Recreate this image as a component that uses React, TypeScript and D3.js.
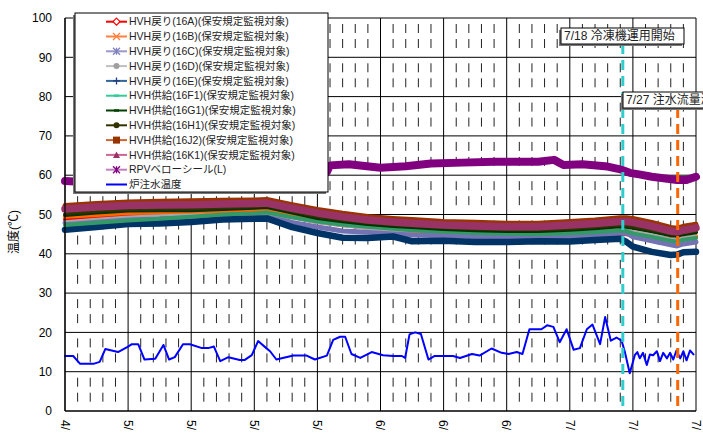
import React from "react";
import * as d3 from "d3";

const W = 703;
const H = 437;
const PLOT = { left: 65, right: 696, top: 18, bottom: 411 };

const X_TICK_DAYS = [0, 10, 20, 30, 40, 50, 60, 70, 80, 90, 100];
// only the month part of each date label is visible in the reference (the rest falls below the picture)
const X_TICK_LABELS = ["4/", "5/", "5/", "5/", "5/", "6/", "6/", "6/", "7/", "7/", "7/"];
const Y_TICKS = [0, 10, 20, 30, 40, 50, 60, 70, 80, 90, 100];

// days since 4/21
const HVH_DAYS = [0, 5, 10, 15, 20, 25, 30, 32, 36, 40, 44, 48, 52, 55, 60, 65, 70, 75, 80, 84, 88, 89, 90, 93, 96, 97, 98, 100];
const HVH_16A = [48.7, 49.3, 49.9, 50.2, 50.4, 50.5, 50.6, 50.6, 49.4, 48.1, 47.3, 46.6, 46.0, 45.6, 44.9, 44.6, 44.4, 44.3, 44.4, 44.8, 45.1, 45.0, 44.8, 44.2, 43.6, 43.4, 43.8, 44.3];
const HVH_16B = [49.4, 49.9, 50.4, 50.5, 50.6, 50.8, 50.9, 51.0, 49.8, 48.6, 47.7, 47.1, 46.4, 45.9, 45.3, 44.9, 44.6, 44.5, 44.6, 44.9, 45.3, 45.2, 44.9, 44.3, 43.8, 43.6, 44.0, 44.5];
const HVH_16C = [47.9, 48.3, 48.9, 49.0, 49.4, 49.6, 49.8, 49.9, 48.0, 46.8, 45.8, 45.5, 45.2, 44.8, 44.6, 44.4, 44.3, 44.3, 44.4, 44.8, 45.2, 45.3, 44.3, 43.3, 42.3, 42.0, 42.5, 43.0];
const HVH_16D = [48.3, 48.9, 49.5, 49.8, 50.0, 50.1, 50.2, 50.2, 49.0, 47.8, 47.0, 46.3, 45.9, 45.7, 45.9, 45.6, 45.4, 45.4, 45.6, 45.9, 46.3, 46.2, 45.8, 44.9, 43.9, 43.8, 44.2, 44.7];
const HVH_16E = [46.1, 46.8, 47.6, 47.7, 48.1, 48.7, 48.9, 49.0, 46.8, 45.3, 44.1, 44.0, 44.4, 43.2, 43.3, 43.0, 43.0, 43.2, 43.1, 43.5, 43.8, 43.0, 41.8, 40.5, 39.7, 39.8, 40.4, 40.5];
const HVH_16F1 = [47.3, 47.9, 48.5, 48.9, 49.4, 50.0, 50.3, 50.5, 49.3, 48.2, 47.4, 46.9, 46.4, 46.0, 45.6, 45.3, 45.1, 45.0, 45.2, 45.5, 45.9, 45.8, 45.2, 44.3, 43.3, 43.1, 43.6, 44.0];
const HVH_16G1 = [49.9, 50.5, 51.0, 51.1, 51.1, 51.4, 51.7, 51.9, 50.5, 49.1, 48.3, 47.6, 47.1, 46.8, 46.3, 46.0, 45.8, 45.8, 46.1, 46.5, 47.0, 46.9, 46.6, 45.7, 44.7, 44.6, 45.0, 45.5];
const HVH_16H1 = [50.2, 50.8, 51.3, 51.4, 51.4, 51.7, 52.0, 52.2, 50.8, 49.4, 48.6, 47.9, 47.4, 47.1, 46.6, 46.3, 46.1, 46.1, 46.4, 46.8, 47.3, 47.2, 46.9, 46.0, 45.0, 44.9, 45.3, 45.8];
const HVH_16J2 = [52.3, 52.8, 53.2, 53.4, 53.5, 53.6, 53.7, 53.8, 52.5, 51.3, 50.3, 49.5, 49.0, 48.7, 48.2, 48.0, 47.8, 47.8, 48.2, 48.6, 49.2, 49.2, 49.0, 48.0, 46.7, 46.5, 47.0, 47.5];
const HVH_16K1 = [51.4, 51.9, 52.3, 52.4, 52.5, 52.7, 52.8, 52.9, 51.6, 50.4, 49.4, 48.6, 48.1, 47.8, 47.3, 47.1, 46.9, 46.9, 47.3, 47.7, 48.2, 48.2, 48.0, 47.0, 45.8, 45.6, 46.0, 46.6];

const RPV_DAYS = [0, 1.6, 5, 10, 15, 20, 25, 30, 35, 40, 41.5, 42, 45, 50, 54, 58, 63, 68, 75, 77.5, 79, 82, 86, 88, 89.5, 91, 93, 97, 98.5, 100];
const RPV_VALUES = [58.5, 58.4, 59, 59.5, 60, 60.5, 60.5, 61, 61, 60.8, 60.8, 62.5, 62.8, 61.9, 62.3, 63.0, 63.2, 63.4, 63.4, 63.9, 62.6, 62.8, 62.2, 61.5, 60.6, 60.2, 59.6, 58.8, 58.8, 59.6];

const WATER_DAYS = [0, 1.3, 2.4, 4.5, 5.5, 6.4, 8.4, 10, 10.6, 11.6, 12.6, 14.3, 15.6, 16.5, 17.4, 18.7, 19.8, 21.7, 22.7, 23.6, 24.6, 25.9, 27.7, 28.5, 29.6, 30.6, 31.9, 32.5, 33.5, 36.2, 38.3, 39.6, 41.5, 42.5, 43.6, 44.4, 45.4, 46.8, 48.6, 50.4, 52, 53.4, 53.9, 54.6, 55.5, 56.4, 57.6, 58.6, 61.5, 62.6, 64.5, 65.7, 67.6, 69.2, 70.3, 71.6, 72.5, 73.6, 75.5, 76.4, 77.4, 78.4, 79.5, 80.6, 81.6, 82.7, 83.6, 84.8, 85.6, 86.5, 87.4, 88.2, 88.7, 89.5, 90.3, 90.7, 91.1, 91.6, 92.2, 92.7, 93.2, 93.8, 94.3, 94.8, 95.4, 95.9, 96.4, 96.9, 97.5, 98, 98.5, 99.05, 99.6];
const WATER_VALUES = [14, 14, 12, 12, 12.5, 15.8, 15, 16.4, 17, 17, 13.1, 13.3, 16.8, 13.1, 13.7, 17, 17, 16, 16, 16.4, 12.7, 13.7, 13, 13, 14.2, 17.8, 16, 15.2, 13.1, 14.1, 14.1, 13.1, 14.1, 18.1, 18.9, 18.9, 14.5, 13.5, 15, 14.2, 14, 14, 13.5, 19.5, 20, 19.6, 13.1, 14, 14, 13.5, 14.5, 14.1, 15.9, 14.8, 14.5, 15, 14.5, 20.8, 20.8, 21.8, 21.4, 17.5, 20.8, 15.6, 16, 20.8, 22, 17, 23.9, 17.9, 18.7, 17.9, 15.2, 9.6, 14.2, 15, 13.4, 14.8, 11.7, 14.4, 14.2, 15.2, 12.7, 14.8, 13.4, 14.8, 13.1, 15.4, 13.4, 15.2, 12.9, 15.4, 14.4];

const EVENT_DAYS = [88.4, 97.1];
const EVENT_LABELS = ["7/18 冷凍機運用開始", "7/27 注水流量減少"];

type Marker = "diamond" | "x" | "asterisk" | "circle" | "plus" | "dash" | "square" | "triangle" | "none";

const SERIES: { name: string; days: number[]; values: number[]; color: string; legendColor: string; width: number; marker: Marker }[] = [
  { name: "HVH戻り(16A)(保安規定監視対象)", days: HVH_DAYS, values: HVH_16A, color: "#FF0000", legendColor: "#FF0000", width: 4, marker: "diamond" },
  { name: "HVH戻り(16B)(保安規定監視対象)", days: HVH_DAYS, values: HVH_16B, color: "#FF6600", legendColor: "#FF8040", width: 4, marker: "x" },
  { name: "HVH戻り(16C)(保安規定監視対象)", days: HVH_DAYS, values: HVH_16C, color: "#7373B3", legendColor: "#9999CC", width: 5, marker: "asterisk" },
  { name: "HVH戻り(16D)(保安規定監視対象)", days: HVH_DAYS, values: HVH_16D, color: "#A6A6A6", legendColor: "#C0C0C0", width: 2, marker: "circle" },
  { name: "HVH戻り(16E)(保安規定監視対象)", days: HVH_DAYS, values: HVH_16E, color: "#003366", legendColor: "#336699", width: 6.5, marker: "plus" },
  { name: "HVH供給(16F1)(保安規定監視対象)", days: HVH_DAYS, values: HVH_16F1, color: "#339966", legendColor: "#33CC99", width: 4, marker: "dash" },
  { name: "HVH供給(16G1)(保安規定監視対象)", days: HVH_DAYS, values: HVH_16G1, color: "#003300", legendColor: "#004000", width: 4, marker: "dash" },
  { name: "HVH供給(16H1)(保安規定監視対象)", days: HVH_DAYS, values: HVH_16H1, color: "#333300", legendColor: "#333300", width: 3, marker: "circle" },
  { name: "HVH供給(16J2)(保安規定監視対象)", days: HVH_DAYS, values: HVH_16J2, color: "#993300", legendColor: "#CC6633", width: 5, marker: "square" },
  { name: "HVH供給(16K1)(保安規定監視対象)", days: HVH_DAYS, values: HVH_16K1, color: "#993366", legendColor: "#CC6699", width: 7.5, marker: "triangle" },
  { name: "RPVベローシール(L)", days: RPV_DAYS, values: RPV_VALUES, color: "#800080", legendColor: "#C080C0", width: 8, marker: "asterisk" },
  { name: "炉注水温度", days: WATER_DAYS, values: WATER_VALUES, color: "#0000FF", legendColor: "#0000FF", width: 2, marker: "none" },
];

const MARKER_COLORS = ["#FF0000", "#FF8040", "#8080C0", "#A0A0A0", "#1F3D7A", "#33CC99", "#004000", "#333300", "#993300", "#993366", "#800080", "#0000FF"];

const FONT = "'Liberation Sans', Arial, 'Noto Sans CJK JP', sans-serif";

function LegendMarker({ type, cx, cy, color }: { type: Marker; cx: number; cy: number; color: string }) {
  const s = 3.5;
  switch (type) {
    case "diamond":
      return <path d={`M${cx},${cy - s}L${cx + s},${cy}L${cx},${cy + s}L${cx - s},${cy}Z`} fill="#fff" stroke={color} strokeWidth={1.2} />;
    case "x":
      return <path d={`M${cx - s},${cy - s}L${cx + s},${cy + s}M${cx - s},${cy + s}L${cx + s},${cy - s}`} stroke={color} strokeWidth={1.3} />;
    case "asterisk":
      return <path d={`M${cx - s},${cy - s}L${cx + s},${cy + s}M${cx - s},${cy + s}L${cx + s},${cy - s}M${cx},${cy - s}L${cx},${cy + s}`} stroke={color} strokeWidth={1.3} />;
    case "circle":
      return <circle cx={cx} cy={cy} r={3} fill={color} />;
    case "plus":
      return <path d={`M${cx - s},${cy}L${cx + s},${cy}M${cx},${cy - s}L${cx},${cy + s}`} stroke={color} strokeWidth={1.3} />;
    case "dash":
      return <rect x={cx - 2.5} y={cy - 1.2} width={5} height={2.4} fill={color} />;
    case "square":
      return <rect x={cx - 3.5} y={cy - 3.5} width={7} height={7} fill={color} />;
    case "triangle":
      return <path d={`M${cx},${cy - 3.5}L${cx + 3.5},${cy + 3}L${cx - 3.5},${cy + 3}Z`} fill={color} />;
    default:
      return null;
  }
}

export default function App() {
  const x = d3.scaleLinear().domain([0, 100]).range([PLOT.left, PLOT.right]);
  const y = d3.scaleLinear().domain([0, 100]).range([PLOT.bottom, PLOT.top]);

  const minorDays = d3.range(2, 100, 2).filter((d) => d % 10 !== 0);

  const lineFor = (days: number[], values: number[]) =>
    d3
      .line<number>()
      .x((_, i) => x(days[i]))
      .y((v) => y(v))
      .curve(d3.curveLinear)(values) || "";

  const legend = { x: 75, y: 13, w: 253, h: 179, row0: 21.7, rowGap: 14.8, lx0: 106, lx1: 127, tx: 129 };

  const eventBoxes = [
    { bx: 561, by: 28, bw: 123, bh: 16, lineTop: 44 },
    { bx: 623, by: 92, bw: 120, bh: 16, lineTop: 108 },
  ];
  const eventColors = ["#33CCCC", "#FF6600"];

  return (
    <svg width={W} height={H} style={{ position: "absolute", left: 0, top: 0, background: "#fff" }} fontFamily={FONT}>
      <rect x={0} y={0} width={W} height={H} fill="#fff" />
      {/* minor dashed vertical gridlines */}
      {minorDays.map((d) => (
        <line key={"m" + d} x1={x(d)} x2={x(d)} y1={PLOT.top + 6} y2={PLOT.bottom} stroke="#222" strokeWidth={1} strokeDasharray="9 6 9 15.3" />
      ))}
      {/* major gridlines */}
      {Y_TICKS.map((t) => (
        <line key={"hy" + t} x1={PLOT.left} x2={PLOT.right} y1={y(t)} y2={y(t)} stroke="#000" strokeWidth={1} />
      ))}
      {X_TICK_DAYS.map((d) => (
        <line key={"vx" + d} x1={x(d)} x2={x(d)} y1={PLOT.top} y2={PLOT.bottom} stroke="#000" strokeWidth={1} />
      ))}
      {/* series */}
      {SERIES.map((s) => (
        <path key={s.name} d={lineFor(s.days, s.values)} fill="none" stroke={s.color} strokeWidth={s.width} strokeLinejoin="round" strokeLinecap="round" />
      ))}
      {/* axes */}
      <line x1={PLOT.left} x2={PLOT.left} y1={PLOT.top} y2={PLOT.bottom} stroke="#000" strokeWidth={1.2} />
      <line x1={PLOT.left} x2={PLOT.right} y1={PLOT.bottom} y2={PLOT.bottom} stroke="#000" strokeWidth={1.2} />
      {Y_TICKS.map((t) => (
        <text key={"yl" + t} x={PLOT.left - 13} y={y(t)} dy="0.35em" textAnchor="end" fontSize={12} fill="#000">
          {t}
        </text>
      ))}
      {X_TICK_DAYS.map((d, i) => (
        <text key={"xl" + d} transform={`translate(${x(d)},${PLOT.bottom + 9}) rotate(90)`} dy="0.35em" fontSize={12} fill="#000">
          {X_TICK_LABELS[i]}
        </text>
      ))}
      <text transform={`translate(14,232) rotate(-90)`} textAnchor="middle" dy="0.35em" fontSize={12} fill="#000">
        温度(℃)
      </text>
      {/* event lines */}
      {EVENT_DAYS.map((d, i) => (
        <line key={"ev" + i} x1={x(d)} x2={x(d)} y1={eventBoxes[i].lineTop} y2={PLOT.bottom} stroke={eventColors[i]} strokeWidth={3} strokeDasharray="10 6" />
      ))}
      {EVENT_LABELS.map((lab, i) => {
        const b = eventBoxes[i];
        return (
          <g key={"eb" + i}>
            <rect x={b.bx - 2} y={b.by + 2} width={b.bw} height={b.bh} fill="#777" />
            <rect x={b.bx} y={b.by} width={b.bw} height={b.bh} fill="#fff" stroke="#000" strokeWidth={1} />
            <text x={b.bx + 3} y={b.by + b.bh / 2} dy="0.36em" fontSize={12} fill="#222">
              {lab}
            </text>
          </g>
        );
      })}
      {/* legend */}
      <rect x={legend.x - 2} y={legend.y + 2} width={legend.w} height={legend.h} fill="#777" />
      <rect x={legend.x} y={legend.y} width={legend.w} height={legend.h} fill="#fff" stroke="#000" strokeWidth={1} />
      {SERIES.map((s, i) => {
        const cy = legend.row0 + i * legend.rowGap;
        return (
          <g key={"lg" + i}>
            <line x1={legend.lx0} x2={legend.lx1} y1={cy} y2={cy} stroke={s.legendColor} strokeWidth={2} />
            <LegendMarker type={s.marker} cx={(legend.lx0 + legend.lx1) / 2} cy={cy} color={MARKER_COLORS[i]} />
            <text x={legend.tx} y={cy} dy="0.36em" fontSize={10.5} fill="#222">
              {s.name}
            </text>
          </g>
        );
      })}
    </svg>
  );
}
